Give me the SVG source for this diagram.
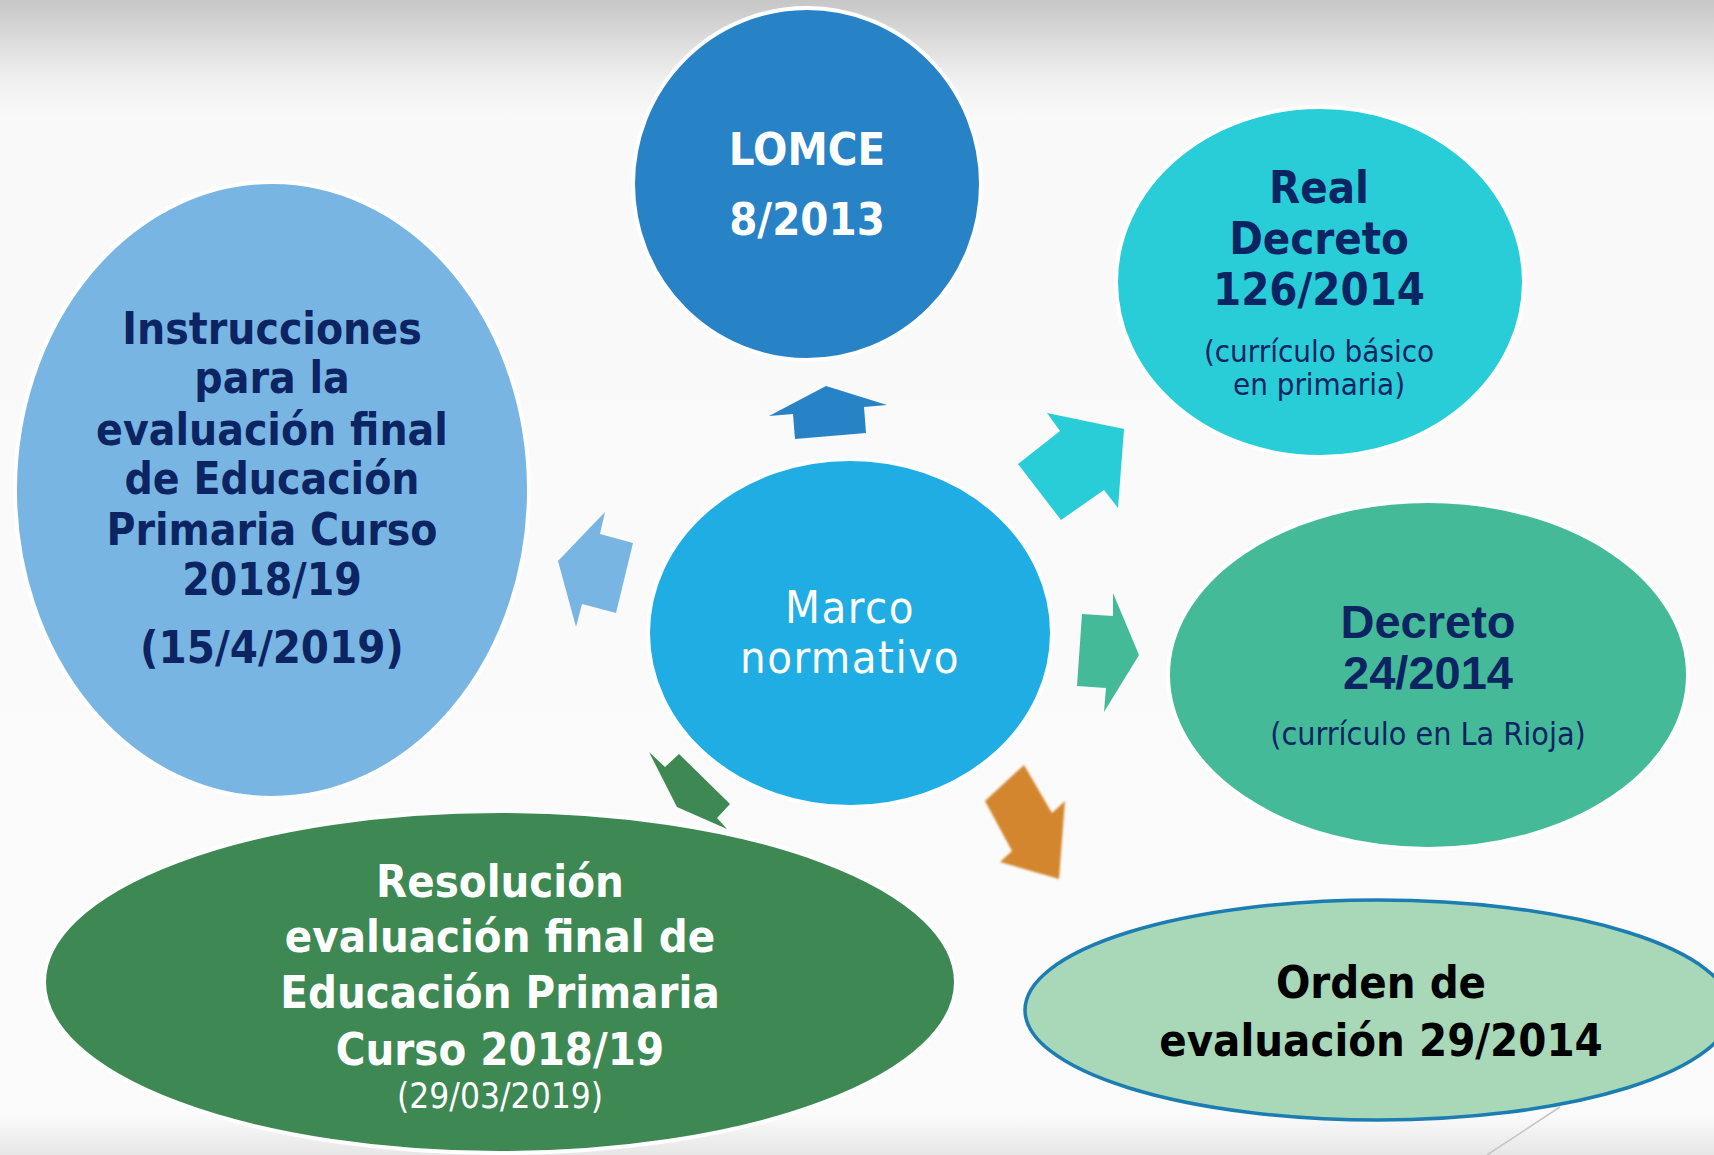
<svg xmlns="http://www.w3.org/2000/svg" width="1714" height="1155" viewBox="0 0 1714 1155">
  <defs>
    <linearGradient id="bg" x1="0" y1="0" x2="0" y2="1">
      <stop offset="0" stop-color="#C6C6C6"/>
      <stop offset="0.035" stop-color="#DCDCDC"/>
      <stop offset="0.07" stop-color="#F0F0F0"/>
      <stop offset="0.1" stop-color="#F9F9F9"/>
      <stop offset="0.965" stop-color="#FBFBFB"/>
      <stop offset="1" stop-color="#E6E6E6"/>
    </linearGradient>
    <filter id="soft" x="-10%" y="-10%" width="120%" height="120%">
      <feGaussianBlur stdDeviation="1.3"/>
    </filter>
    <style>
      .node { stroke: #FFFFFF; stroke-width: 4; }
      .b { font-family: "DejaVu Sans Condensed", "DejaVu Sans", sans-serif; font-weight: bold; text-anchor: middle; }
      .r { font-family: "DejaVu Sans Condensed", "DejaVu Sans", sans-serif; font-weight: normal; text-anchor: middle; }
      .navy { fill: #0D2463; }
      .white { fill: #FFFFFF; }
    </style>
  </defs>

  <rect x="0" y="0" width="1714" height="1155" fill="url(#bg)"/>
  <line x1="1560" y1="1107" x2="1487" y2="1155" stroke="#C4C4C4" stroke-width="1.5"/>

  <g id="connectors">
    <polygon id="arrow-lomce" points="769,416 826,386 887,405 864,407 866,433 795,439 793,414" fill="#2882C6"/>
    <polygon id="arrow-real-decreto" points="1047,413 1124,429 1118,508 1104,490 1061,520 1018,464 1060,431" fill="#29CDD7"/>
    <polygon id="arrow-decreto24" points="1082,614 1113,616 1113,593 1139,655 1104,712 1106,688 1077,686" fill="#44BA98"/>
    <polygon id="arrow-orden" points="1024,765 1052,813 1065,801 1059,879 1000,862 1012,851 985,801" fill="#D4862E" filter="url(#soft)"/>
    <polygon id="arrow-resolucion" points="649,752 665,767 679,754 730,804 717,818 727,829 677,807" fill="#3E8853"/>
    <polygon id="arrow-instrucciones" points="605,512 600,534 633,543 616,613 582,604 576,627 558,561" fill="#78B5E3"/>
  </g>

  <g id="node-lomce">
    <ellipse cx="807" cy="184" rx="174" ry="176" fill="#2882C6" class="node"/>
    <text class="b white" x="807" y="165" font-size="45">LOMCE</text>
    <text class="b white" x="807" y="235" font-size="45">8/2013</text>
  </g>

  <g id="node-real-decreto">
    <ellipse cx="1320" cy="282" rx="204" ry="175" fill="#29CDD7" class="node"/>
    <text class="b navy" x="1319" y="203" font-size="45">Real</text>
    <text class="b navy" x="1319" y="254" font-size="45">Decreto</text>
    <text class="b navy" x="1319" y="305" font-size="45">126/2014</text>
    <text class="r navy" x="1319" y="362" font-size="31">(currículo básico</text>
    <text class="r navy" x="1319" y="395" font-size="31">en primaria)</text>
  </g>

  <g id="node-instrucciones">
    <ellipse cx="272" cy="490" rx="257" ry="308" fill="#78B5E3" class="node"/>
    <text class="b navy" x="272" y="344" font-size="44">Instrucciones</text>
    <text class="b navy" x="272" y="393" font-size="44">para la</text>
    <text class="b navy" x="272" y="445" font-size="44">evaluación final</text>
    <text class="b navy" x="272" y="494" font-size="44">de Educación</text>
    <text class="b navy" x="272" y="545" font-size="44">Primaria Curso</text>
    <text class="b navy" x="272" y="595" font-size="44">2018/19</text>
    <text class="b navy" x="272" y="663" font-size="45">(15/4/2019)</text>
  </g>

  <g id="node-marco">
    <ellipse cx="850" cy="633" rx="202" ry="174" fill="#1FADE3" class="node"/>
    <text class="r white" x="850" y="623" font-size="45" letter-spacing="1.5">Marco</text>
    <text class="r white" x="850" y="673" font-size="45" letter-spacing="1.5">normativo</text>
  </g>

  <g id="node-decreto24">
    <ellipse cx="1428" cy="675" rx="260" ry="174" fill="#44BA98" class="node"/>
    <text x="1428" y="638" font-size="47" font-family="'Liberation Sans', Arial, sans-serif" font-weight="bold" text-anchor="middle" class="navy">Decreto</text>
    <text x="1428" y="689" font-size="47" font-family="'Liberation Sans', Arial, sans-serif" font-weight="bold" text-anchor="middle" class="navy">24/2014</text>
    <text class="r navy" x="1428" y="745" font-size="32">(currículo en La Rioja)</text>
  </g>

  <g id="node-resolucion">
    <ellipse cx="500" cy="982" rx="456" ry="171" fill="#3E8853" class="node" stroke-width="3"/>
    <text class="b white" x="500" y="897" font-size="45">Resolución</text>
    <text class="b white" x="500" y="952" font-size="45">evaluación final de</text>
    <text class="b white" x="500" y="1008" font-size="45">Educación Primaria</text>
    <text class="b white" x="500" y="1065" font-size="45">Curso 2018/19</text>
    <text class="r white" x="500" y="1108" font-size="35">(29/03/2019)</text>
  </g>

  <g id="node-orden">
    <ellipse cx="1378" cy="1010" rx="353" ry="110" fill="#A8D8B8" stroke="#1B7DB1" stroke-width="3.5"/>
    <text class="b" x="1381" y="998" font-size="45" fill="#000000">Orden de</text>
    <text class="b" x="1381" y="1056" font-size="45" fill="#000000">evaluación 29/2014</text>
  </g>
</svg>
